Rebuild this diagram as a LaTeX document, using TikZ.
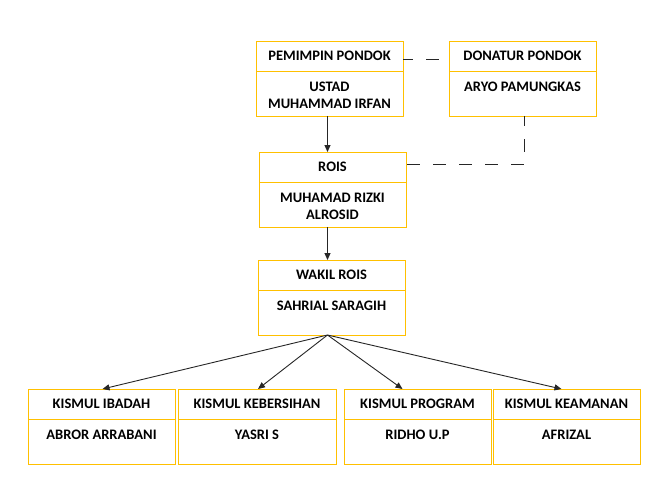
\documentclass[tikz,border=0pt]{standalone}
\usepackage{fontspec}
\setmainfont{Carlito}
\usepackage{tikz}
\usetikzlibrary{arrows.meta}
\usepackage{xcolor}
\definecolor{emas}{HTML}{FFC000}

% kotak jabatan: nama, x, y, lebar, judul, orang
\newcommand{\jabatan}[6]{%
  \node[kotak, minimum width=#4pt, anchor=north west] (#1) at (#2,#3) {};
  \draw[garis] ([yshift=-30pt]#1.north west) -- ([yshift=-30pt]#1.north east);
  \node[teks] (#1-judul) at ([yshift=-15pt]#1.north) {#5};
  \node[teks, anchor=north] (#1-nama) at ([yshift=-41pt]#1.north) {#6};
}

\begin{document}
\begin{tikzpicture}[x=1pt, y=-1pt,
    kotak/.style={draw=emas, line width=1pt, minimum height=75pt, inner sep=0pt, outer sep=0pt},
    garis/.style={draw=emas, line width=1pt},
    teks/.style={font=\bfseries\fontsize{14.5}{17}\selectfont, inner sep=0pt, align=center},
    panah/.style={draw=black!85, line width=0.9pt, -{Triangle[length=7pt, width=6pt]}},
    putus/.style={draw=black!85, line width=0.9pt, dash pattern=on 13pt off 13pt, dash phase=3pt}
  ]
  \fill[white] (0,0) rectangle (672,477);

  \jabatan{pemimpin}{256}{41}{147}{PEMIMPIN PONDOK}{USTAD\\MUHAMMAD IRFAN}
  \jabatan{donatur}{449}{41}{147}{DONATUR PONDOK}{ARYO PAMUNGKAS}
  \jabatan{rois}{259}{152}{147}{ROIS}{MUHAMAD RIZKI\\ALROSID}
  \jabatan{wakil}{258}{260}{147}{WAKIL ROIS}{SAHRIAL SARAGIH}
  \jabatan{ibadah}{28}{389}{147}{KISMUL IBADAH}{ABROR ARRABANI}
  \jabatan{kebersihan}{178}{389}{158}{KISMUL KEBERSIHAN}{YASRI S}
  \jabatan{program}{344}{389}{147}{KISMUL PROGRAM}{RIDHO U.P}
  \jabatan{keamanan}{493}{389}{147}{KISMUL KEAMANAN}{AFRIZAL}

  % garis komando
  \draw[panah] ([xshift=-2pt]pemimpin.south) -- ([xshift=-2pt]pemimpin.south |- rois.north);
  \draw[panah] ([xshift=-5pt]rois.south) -- ([xshift=-5pt]rois.south |- wakil.north);
  \coordinate (pusat) at ([xshift=-4pt]wakil.south);
  \draw[panah] (pusat) -- ([xshift=1pt]ibadah.north);
  \draw[panah] (pusat) -- ([xshift=1pt]kebersihan.north);
  \draw[panah] (pusat) -- ([xshift=-15pt]program.north);
  \draw[panah] (pusat) -- ([xshift=-5pt]keamanan.north);

  % garis koordinasi
  \draw[putus] ([yshift=-18pt]pemimpin.north east) -- ([yshift=-18pt]donatur.north west);
  \draw[putus] ([xshift=2pt]donatur.south) |- ([yshift=-12pt]rois.north east);
\end{tikzpicture}
\end{document}
